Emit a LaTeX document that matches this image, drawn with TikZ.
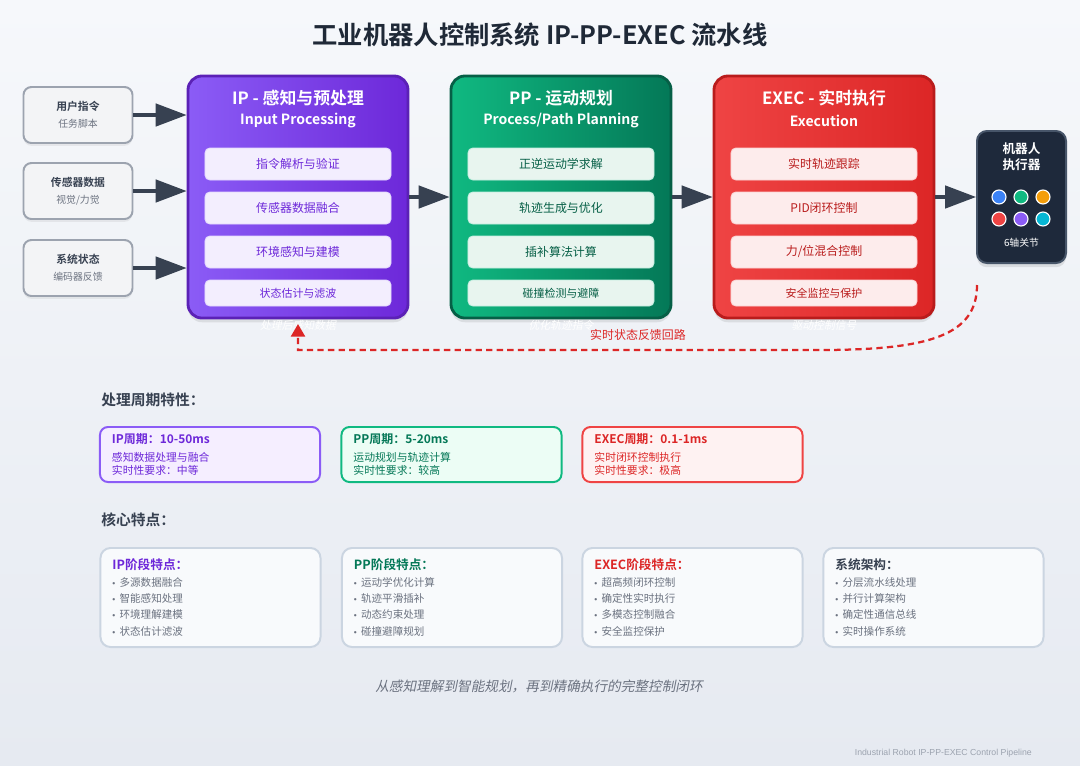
\documentclass[tikz,border=0pt]{standalone}
\usepackage{fontspec}
\setmainfont{Noto Sans CJK SC}[BoldFont={Noto Sans CJK SC Bold},ItalicFont={Noto Sans CJK SC},ItalicFeatures={FakeSlant=0.2}]
\newfontfamily\footfont{Liberation Sans}
\usetikzlibrary{arrows.meta,shadows}

\definecolor{BgTop}{HTML}{F6F8FB}
\definecolor{BgBot}{HTML}{E6EAF1}
\definecolor{Ink}{HTML}{1F2937}
\definecolor{Dark}{HTML}{374151}
\definecolor{Gray}{HTML}{6B7280}
\definecolor{InFill}{HTML}{F3F4F6}
\definecolor{InLine}{HTML}{9CA3AF}
\definecolor{IPa}{HTML}{8B5CF6}
\definecolor{IPb}{HTML}{6D28D9}
\definecolor{IPline}{HTML}{5B21B6}
\definecolor{IPsub}{HTML}{F3EEFE}
\definecolor{IPtext}{HTML}{6D28D9}
\definecolor{PPa}{HTML}{10B981}
\definecolor{PPb}{HTML}{047857}
\definecolor{PPline}{HTML}{065F46}
\definecolor{PPsub}{HTML}{E8F5EF}
\definecolor{PPtext}{HTML}{065F46}
\definecolor{EXa}{HTML}{EF4444}
\definecolor{EXb}{HTML}{DC2626}
\definecolor{EXline}{HTML}{B91C1C}
\definecolor{EXsub}{HTML}{FDECEC}
\definecolor{EXtext}{HTML}{B91C1C}
\definecolor{RoFill}{HTML}{1E293B}
\definecolor{RoLine}{HTML}{475569}
\definecolor{JBlue}{HTML}{3B82F6}
\definecolor{JOrange}{HTML}{F59E0B}
\definecolor{JCyan}{HTML}{06B6D4}
\definecolor{FB}{HTML}{DC2626}
\definecolor{IPcf}{HTML}{F5EEFF}
\definecolor{PPcf}{HTML}{ECFDF5}
\definecolor{EXcf}{HTML}{FEF2F2}
\definecolor{PPtitle}{HTML}{047857}
\definecolor{FeFill}{HTML}{F8FAFC}
\definecolor{FeLine}{HTML}{CBD5E1}
\definecolor{Foot}{HTML}{9CA3AF}

\newcommand\dotitem{{\footfont\fontsize{6}{11.6}\selectfont\textbullet}\hspace{3pt}}

\begin{document}
\begin{tikzpicture}[x=0.025cm,y=-0.025cm,
    inbox/.style={draw=InLine,line width=1.4pt,fill=InFill,rounded corners=0.2cm,
        minimum width=2.725cm,minimum height=1.4cm,align=center,text=Dark,
        font=\fontsize{7}{12}\selectfont,drop shadow={opacity=0.12,shadow xshift=0pt,shadow yshift=-2pt}},
    stage/.style={line width=2pt,rounded corners=0.35cm,minimum width=5.5cm,minimum height=6.05cm,
        drop shadow={opacity=0.18,shadow xshift=0pt,shadow yshift=-3pt}},
    head/.style={text=white,font=\bfseries\fontsize{12}{14}\selectfont},
    headsub/.style={text=white,font=\bfseries\fontsize{10}{12}\selectfont},
    sub/.style={line width=0.6pt,rounded corners=0.12cm,minimum width=4.65cm,minimum height=0.8cm,
        font=\fontsize{8.5}{10}\selectfont},
    last/.style={minimum height=0.65cm,font=\fontsize{7.8}{10}\selectfont},
    arr/.style={draw=Dark,line width=2.2pt,-{Triangle[length=22pt,width=16pt,fill=Dark]}},
    dot/.style={circle,draw=white,line width=0.8pt,minimum size=0.35cm,inner sep=0pt},
    flow/.style={text=white,font=\itshape\fontsize{7.7}{9}\selectfont},
    fb/.style={draw=FB,line width=1.6pt,dash pattern=on 4.5pt off 3pt,-{Triangle[length=9pt,width=10pt]}},
    sect/.style={anchor=west,inner sep=0pt,text=Dark,font=\bfseries\fontsize{10.5}{12}\selectfont},
    cycle/.style={line width=1.4pt,rounded corners=0.2cm,minimum width=5.5cm,minimum height=1.375cm,
        text width=4.9cm,inner xsep=0.3cm,align=left,font=\fontsize{7.7}{9.3}\selectfont},
    feat/.style={draw=FeLine,fill=FeFill,line width=1.4pt,rounded corners=0.25cm,minimum width=5.5cm,
        minimum height=2.475cm,text width=4.9cm,inner xsep=0.3cm,align=left,text=Gray,
        font=\fontsize{7.5}{11.6}\selectfont}]

    \useasboundingbox (0,0) rectangle (1080,765);
    \shade [top color=BgTop,bottom color=BgBot] (0,0) rectangle (1080,765);

    \node [text=Ink,font=\bfseries\fontsize{18}{20}\selectfont] (T) at (540,35) {工业机器人控制系统 IP-PP-EXEC 流水线};

    % inputs
    \node [inbox] (U) at (78,115) {{\bfseries\fontsize{7.7}{12}\selectfont 用户指令}\\{\color{Gray}任务脚本}};
    \node [inbox] (S) at (78,191) {{\bfseries\fontsize{7.7}{12}\selectfont 传感器数据}\\{\color{Gray}视觉/力觉}};
    \node [inbox] (Y) at (78,268) {{\bfseries\fontsize{7.7}{12}\selectfont 系统状态}\\{\color{Gray}编码器反馈}};

    % IP stage
    \node [stage,left color=IPa,right color=IPb,draw=IPline] (IP) at (298,197) {};
    \node [head] (IPt) at (298,98) {IP - 感知与预处理};
    \node [headsub] (IPs) at (298,121) {Input Processing};
    \node [sub,fill=IPsub,draw=IPa!25,text=IPtext] (IP1) at (298,164) {指令解析与验证};
    \node [sub,fill=IPsub,draw=IPa!25,text=IPtext] (IP2) at (298,208) {传感器数据融合};
    \node [sub,fill=IPsub,draw=IPa!25,text=IPtext] (IP3) at (298,252) {环境感知与建模};
    \node [sub,last,fill=IPsub,draw=IPa!25,text=IPtext] (IP4) at (298,293) {状态估计与滤波};

    % PP stage
    \node [stage,left color=PPa,right color=PPb,draw=PPline] (PP) at (561,197) {};
    \node [head] (PPt) at (561,98) {PP - 运动规划};
    \node [headsub] (PPs) at (561,121) {Process/Path Planning};
    \node [sub,fill=PPsub,draw=PPa!25,text=PPtext] (PP1) at (561,164) {正逆运动学求解};
    \node [sub,fill=PPsub,draw=PPa!25,text=PPtext] (PP2) at (561,208) {轨迹生成与优化};
    \node [sub,fill=PPsub,draw=PPa!25,text=PPtext] (PP3) at (561,252) {插补算法计算};
    \node [sub,last,fill=PPsub,draw=PPa!25,text=PPtext] (PP4) at (561,293) {碰撞检测与避障};

    % EXEC stage
    \node [stage,left color=EXa,right color=EXb,draw=EXline] (EX) at (824,197) {};
    \node [head] (EXt) at (824,98) {EXEC - 实时执行};
    \node [headsub] (EXs) at (824,121) {Execution};
    \node [sub,fill=EXsub,draw=EXa!25,text=EXtext] (EX1) at (824,164) {实时轨迹跟踪};
    \node [sub,fill=EXsub,draw=EXa!25,text=EXtext] (EX2) at (824,208) {PID闭环控制};
    \node [sub,fill=EXsub,draw=EXa!25,text=EXtext] (EX3) at (824,252) {力/位混合控制};
    \node [sub,last,fill=EXsub,draw=EXa!25,text=EXtext] (EX4) at (824,293) {安全监控与保护};

    % robot
    \node [draw=RoLine,fill=RoFill,line width=1.4pt,rounded corners=0.25cm,minimum width=2.225cm,
        minimum height=3.3cm,drop shadow={opacity=0.2,shadow xshift=0pt,shadow yshift=-3pt}] (R) at (1021.5,197) {};
    \node [text=white,align=center,font=\bfseries\fontsize{9}{11.4}\selectfont] (Rt) at (1021.5,157) {机器人\\执行器};
    \node [dot,fill=JBlue] (J1) at (999,197) {};
    \node [dot,fill=PPa] (J2) at (1021,197) {};
    \node [dot,fill=JOrange] (J3) at (1043,197) {};
    \node [dot,fill=EXa] (J4) at (999,219) {};
    \node [dot,fill=IPa] (J5) at (1021,219) {};
    \node [dot,fill=JCyan] (J6) at (1043,219) {};
    \node [text=white,font=\fontsize{7}{9}\selectfont] (Rj) at (1021.5,243) {6轴关节};

    \path [arr] (U) edge (U -| IP.west);
    \path [arr] (S) edge (S -| IP.west);
    \path [arr] (Y) edge (Y -| IP.west);
    \path [arr] (IP) edge (PP);
    \path [arr] (PP) edge (EX);
    \path [arr] (EX) edge (R);

    \node [flow] (L1) at (298,325) {处理后感知数据};
    \node [flow] (L2) at (561,325) {优化轨迹指令};
    \node [flow] (L3) at (824,325) {驱动控制信号};

    % feedback loop
    \coordinate (F1) at (977,285);
    \coordinate (F2) at (298,324);
    \draw [fb] (F1) .. controls (977,335) and (930,350) .. (820,350) -- (298,350) -- (F2);
    \node [text=FB,font=\fontsize{8.5}{10}\selectfont] (FL) at (638,335) {实时状态反馈回路};

    % cycles
    \node [sect] (H1) at (101,400) {处理周期特性：};
    \node [cycle,draw=IPa,fill=IPcf,text=IPtext] (C1) at (210,454.5)
        {{\bfseries\fontsize{8.5}{9.3}\selectfont IP周期：10-50ms}\\[4pt]感知数据处理与融合\\实时性要求：中等};
    \node [cycle,draw=PPa,fill=PPcf,text=PPtitle] (C2) at (451.5,454.5)
        {{\bfseries\fontsize{8.5}{9.3}\selectfont PP周期：5-20ms}\\[4pt]运动规划与轨迹计算\\实时性要求：较高};
    \node [cycle,draw=EXa,fill=EXcf,text=EXb] (C3) at (692.5,454.5)
        {{\bfseries\fontsize{8.5}{9.3}\selectfont EXEC周期：0.1-1ms}\\[4pt]实时闭环控制执行\\实时性要求：极高};

    % features
    \node [sect] (H2) at (101,520) {核心特点：};
    \node [feat] (K1) at (210.5,597.5)
        {{\bfseries\fontsize{9}{11.6}\selectfont\color{IPtext}IP阶段特点：}\\\dotitem 多源数据融合\\\dotitem 智能感知处理\\\dotitem 环境理解建模\\\dotitem 状态估计滤波};
    \node [feat] (K2) at (452,597.5)
        {{\bfseries\fontsize{9}{11.6}\selectfont\color{PPtitle}PP阶段特点：}\\\dotitem 运动学优化计算\\\dotitem 轨迹平滑插补\\\dotitem 动态约束处理\\\dotitem 碰撞避障规划};
    \node [feat] (K3) at (692.5,597.5)
        {{\bfseries\fontsize{9}{11.6}\selectfont\color{EXb}EXEC阶段特点：}\\\dotitem 超高频闭环控制\\\dotitem 确定性实时执行\\\dotitem 多模态控制融合\\\dotitem 安全监控保护};
    \node [feat] (K4) at (933.5,597.5)
        {{\bfseries\fontsize{9}{11.6}\selectfont\color{Dark}系统架构：}\\\dotitem 分层流水线处理\\\dotitem 并行计算架构\\\dotitem 确定性通信总线\\\dotitem 实时操作系统};

    \node [text=Gray,font=\itshape\fontsize{9.7}{11}\selectfont] (Z) at (539,686) {从感知理解到智能规划，再到精确执行的完整控制闭环};
    \node [anchor=east,inner sep=0pt,text=Foot,font=\footfont\fontsize{6.2}{7}\selectfont] (W) at (1032,753) {Industrial Robot IP-PP-EXEC Control Pipeline};
\end{tikzpicture}
\end{document}
